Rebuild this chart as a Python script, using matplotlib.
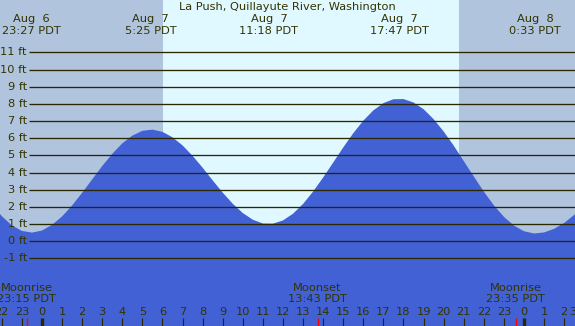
import numpy as np
import matplotlib
matplotlib.use("Agg")
import matplotlib.pyplot as plt

# tide height (ft) every half hour, hours from Aug 7 00:00 PDT
tide_hours = np.arange(-2.5, 27.01, 0.5)
tide_ft = [2.17, 1.46, 0.92, 0.60, 0.50, 0.62, 0.95, 1.44, 2.08, 2.82,
           3.60, 4.38, 5.09, 5.70, 6.15, 6.43, 6.50, 6.37, 6.05, 5.58,
           4.97, 4.28, 3.54, 2.83, 2.18, 1.64, 1.25, 1.03, 1.02, 1.21,
           1.60, 2.17, 2.89, 3.71, 4.58, 5.46, 6.29, 7.02, 7.62, 8.04,
           8.27, 8.28, 8.08, 7.69, 7.11, 6.39, 5.57, 4.67, 3.77, 2.89,
           2.09, 1.42, 0.91, 0.58, 0.45, 0.51, 0.72, 1.06, 1.53, 2.09]

# high / low tide annotations
event_hours = [-0.55, 5.42, 11.30, 17.78, 24.55]
event_days = ["Aug  6", "Aug  7", "Aug  7", "Aug  7", "Aug  8"]
event_times = ["23:27 PDT", "5:25 PDT", "11:18 PDT", "17:47 PDT", "0:33 PDT"]

# moon events
moon_hours = [-0.75, 13.72, 23.58]
moon_names = ["Moonrise", "Moonset", "Moonrise"]
moon_times = ["23:15 PDT", "13:43 PDT", "23:35 PDT"]

sunrise = 6.03
sunset = 20.77

ft_levels = list(range(-1, 12))
hour_ticks = list(range(-2, 28))
hour_labels = ["22", "23", "0", "1", "2", "3", "4", "5", "6", "7", "8", "9",
               "10", "11", "12", "13", "14", "15", "16", "17", "18", "19",
               "20", "21", "22", "23", "0", "1", "2", "3"]

title = "La Push, Quillayute River, Washington"

night = "#b0c4de"
day = "#e0f8ff"
water = "#4161d5"
ink = "#333300"
rule = "#2a2800"

xmin, xmax = -2.09, 26.54
ymin, ymax = -4.94, 14.05

fig = plt.figure(figsize=(5.75, 3.26), dpi=100)
ax = fig.add_axes([0, 0, 1, 1])
ax.set_xlim(xmin, xmax)
ax.set_ylim(ymin, ymax)
ax.axis("off")

ax.axvspan(xmin, xmax, color=day, zorder=0)
ax.axvspan(xmin, sunrise, color=night, lw=0, zorder=0)
ax.axvspan(sunset, xmax, color=night, lw=0, zorder=0)

ax.fill_between(tide_hours, ymin, tide_ft, color=water, lw=0, zorder=1)

fs = 8.2
for lv in ft_levels:
    ax.hlines(lv, -0.65, xmax, color=rule, lw=0.95, zorder=2)
    ax.text(-0.75, lv, "%d ft" % lv, ha="right", va="center",
            fontsize=fs, color=ink, zorder=3)

ax.text((xmin + xmax) / 2, 13.64, title, ha="center", va="center",
        fontsize=fs, color=ink)
for h, d, t in zip(event_hours, event_days, event_times):
    ax.text(h, 12.94, d, ha="center", va="center", fontsize=fs, color=ink)
    ax.text(h, 12.24, t, ha="center", va="center", fontsize=fs, color=ink)

for h, n, t in zip(moon_hours, moon_names, moon_times):
    ax.text(h, -2.70, n, ha="center", va="center", fontsize=fs, color=ink, zorder=3)
    ax.text(h, -3.37, t, ha="center", va="center", fontsize=fs, color=ink, zorder=3)
    ax.vlines(h, ymin, -4.47, color="red", lw=1.0, zorder=3)

for h, lab in zip(hour_ticks, hour_labels):
    thick = lab == "0"
    if h <= xmax:
        ax.vlines(h, ymin, -4.47, color=rule,
                  lw=2.4 if thick else 0.8, zorder=3)
        ax.text(h, -4.12, lab, ha="center", va="center", fontsize=fs,
                color=ink, zorder=3)
    else:
        # label past the right edge is pulled in so a part of it shows
        ax.text(xmax + 0.05, -4.12, lab, ha="right", va="center", fontsize=fs,
                color=ink, zorder=3)

fig.savefig("out.png", dpi=100)
